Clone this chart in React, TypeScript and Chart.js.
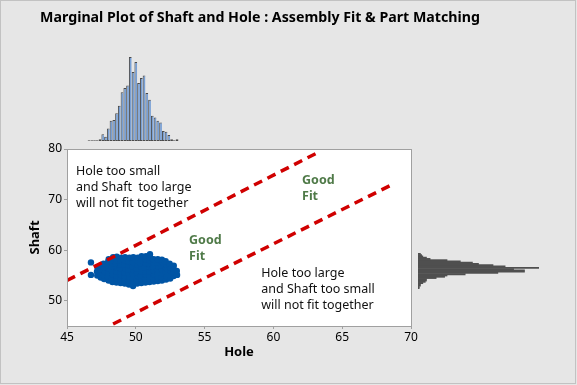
import React, { useEffect, useRef } from "react";
import { Chart, registerables } from "chart.js";

Chart.register(...registerables);

const W = 577;
const H = 385;
const FONT = "'Noto Sans', 'Open Sans', sans-serif";

const chartTitle = "Marginal Plot of Shaft and Hole : Assembly Fit & Part Matching";
const xAxisTitle = "Hole";
const yAxisTitle = "Shaft";
const xTickValues = [45, 50, 55, 60, 65, 70];
const yTickValues = [50, 60, 70, 80];

// Top marginal histogram (Hole)
const holeBinCenters = [46.6, 46.8, 47.0, 47.2, 47.4, 47.6, 47.8, 48.0, 48.2, 48.4, 48.6, 48.8, 49.0, 49.2, 49.4, 49.6, 49.8, 50.0, 50.2, 50.4, 50.6, 50.8, 51.0, 51.2, 51.4, 51.6, 51.8, 52.0, 52.2, 52.4, 52.6, 52.8, 53.0];
const holeBinCounts = [1, 1, 1, 1, 2, 8, 5, 15, 24, 25, 33, 42, 58, 63, 66, 100, 82, 94, 69, 75, 78, 57, 49, 30, 28, 24, 22, 12, 11, 7, 2, 1, 2];

// Right marginal histogram (Shaft)
const shaftBinCenters = [59.25, 59.0, 58.75, 58.5, 58.25, 58.0, 57.75, 57.5, 57.25, 57.0, 56.75, 56.5, 56.25, 56.0, 55.75, 55.5, 55.25, 55.0, 54.75, 54.5, 54.25, 54.0, 53.75, 53.5, 53.25, 53.0, 52.75, 52.5];
const shaftBinCounts = [2, 3, 4, 7, 10, 24, 35, 45, 50, 62, 72, 100, 79, 88, 88, 66, 39, 24, 22, 15, 7, 7, 6, 4, 2, 2, 1, 1];

// Scatter points
const holeValues = [
  46.74, 46.74,
  47.2, 47.18, 47.22,
  47.45, 47.43, 47.47, 47.44,
  47.7, 47.68, 47.74, 47.7, 47.66,
  48.02, 47.98, 48.0, 48.05, 47.97, 48.0, 48.03,
  48.3, 48.28, 48.33, 48.3, 48.26, 48.31, 48.29, 48.35,
  48.6, 48.62, 48.58, 48.6, 48.64, 48.57, 48.6, 48.62,
  48.9, 48.88, 48.93, 48.9, 48.86, 48.91, 48.9, 48.94,
  49.2, 49.22, 49.18, 49.2, 49.24, 49.17, 49.2, 49.22,
  49.5, 49.48, 49.53, 49.5, 49.46, 49.51, 49.5, 49.54,
  49.8, 49.82, 49.78, 49.8, 49.84, 49.77, 49.8, 49.82,
  50.1, 50.08, 50.13, 50.1, 50.06, 50.11, 50.1, 50.14,
  50.4, 50.42, 50.38, 50.4, 50.44, 50.37, 50.4, 50.42,
  50.7, 50.68, 50.73, 50.7, 50.66, 50.71, 50.7, 50.74,
  51.0, 51.02, 50.98, 51.0, 51.04, 50.97, 51.0, 51.02, 51.03,
  51.3, 51.28, 51.33, 51.3, 51.26, 51.31, 51.3,
  51.6, 51.62, 51.58, 51.6, 51.64, 51.57, 51.6,
  51.9, 51.88, 51.93, 51.9, 51.86, 51.91, 51.9,
  52.2, 52.22, 52.18, 52.2, 52.24, 52.17,
  52.5, 52.48, 52.53, 52.5, 52.46,
  52.75, 52.77, 52.73, 52.76,
  53.0, 52.98,
];
const shaftValues = [
  57.58, 55.1,
  55.0, 55.8, 56.6,
  54.6, 55.3, 56.1, 56.9,
  54.3, 55.0, 55.8, 56.5, 57.3,
  54.0, 54.8, 55.5, 56.3, 57.0, 57.7, 58.2,
  53.7, 54.4, 55.2, 55.9, 56.7, 57.4, 58.0, 58.6,
  53.6, 54.3, 55.0, 55.8, 56.5, 57.3, 58.0, 58.7,
  53.5, 54.2, 55.0, 55.7, 56.4, 57.2, 57.9, 58.5,
  53.4, 54.1, 54.9, 55.6, 56.4, 57.1, 57.9, 58.6,
  53.2, 54.0, 54.7, 55.5, 56.2, 57.0, 57.7, 58.5,
  52.9, 53.7, 54.5, 55.3, 56.0, 56.8, 57.6, 58.6,
  53.4, 54.1, 54.9, 55.6, 56.4, 57.1, 57.9, 58.5,
  53.5, 54.2, 55.0, 55.8, 56.5, 57.3, 58.0, 58.8,
  53.6, 54.3, 55.1, 55.8, 56.6, 57.4, 58.2, 58.8,
  53.7, 54.4, 55.1, 55.8, 56.6, 57.3, 58.0, 58.6, 59.2,
  53.8, 54.5, 55.2, 56.0, 56.7, 57.5, 58.2,
  53.9, 54.6, 55.3, 56.1, 56.8, 57.5, 58.2,
  54.0, 54.7, 55.4, 56.2, 56.9, 57.6, 58.1,
  54.2, 54.9, 55.7, 56.4, 57.1, 57.8,
  54.4, 55.1, 55.9, 56.6, 57.3,
  54.9, 55.6, 56.3, 56.9,
  55.1, 55.9,
];

// Dashed boundary lines
const upperLineHole = [45, 63.3];
const upperLineShaft = [54.0, 79.4];
const lowerLineHole = [48.35, 68.8];
const lowerLineShaft = [45.4, 73.2];

// Annotations
const noteTexts = [
  ["Hole too small", "and Shaft  too large", "will not fit together"],
  ["Good", "Fit"],
  ["Good", "Fit"],
  ["Hole too large", "and Shaft too small", "will not fit together"],
];
const noteHole = [45.65, 53.87, 62.08, 59.12];
const noteShaft = [75.6, 61.9, 73.77, 55.48];
const noteKinds = ["plain", "good", "good", "plain"];

export default function App() {
  const mainRef = useRef<HTMLCanvasElement>(null);
  const topRef = useRef<HTMLCanvasElement>(null);
  const rightRef = useRef<HTMLCanvasElement>(null);

  useEffect(() => {
    const points = holeValues.map((h, i) => ({ x: h, y: shaftValues[i] }));
    const upper = upperLineHole.map((h, i) => ({ x: h, y: upperLineShaft[i] }));
    const lower = lowerLineHole.map((h, i) => ({ x: h, y: lowerLineShaft[i] }));

    const areaPlugin = {
      id: "area",
      beforeDraw(chart: any) {
        const { ctx, chartArea: a } = chart;
        ctx.save();
        ctx.fillStyle = "#ffffff";
        ctx.fillRect(a.left, a.top, a.right - a.left, a.bottom - a.top);
        ctx.restore();
      },
      afterDatasetsDraw(chart: any) {
        const { ctx, chartArea: a, scales } = chart;
        ctx.save();
        ctx.strokeStyle = "#a0a0a0";
        ctx.lineWidth = 1;
        ctx.strokeRect(Math.round(a.left) + 0.5, Math.round(a.top) + 0.5, Math.round(a.right - a.left), Math.round(a.bottom - a.top));
        ctx.textAlign = "left";
        ctx.textBaseline = "middle";
        noteTexts.forEach((lines, i) => {
          const px = scales.x.getPixelForValue(noteHole[i]);
          const py = scales.y.getPixelForValue(noteShaft[i]);
          if (noteKinds[i] === "good") {
            ctx.font = `bold 12.5px ${FONT}`;
            ctx.fillStyle = "#4f7a48";
          } else {
            ctx.font = `12.5px ${FONT}`;
            ctx.fillStyle = "#111111";
          }
          lines.forEach((t, j) => ctx.fillText(t, px, py + j * 16));
        });
        ctx.restore();
      },
      afterDraw(chart: any) {
        const { ctx } = chart;
        ctx.save();
        ctx.font = `bold 14.2px ${FONT}`;
        ctx.fillStyle = "#000000";
        ctx.textAlign = "center";
        ctx.textBaseline = "middle";
        ctx.fillText(chartTitle, 260, 18);
        ctx.restore();
      },
    };

    const main = new Chart(mainRef.current as HTMLCanvasElement, {
      type: "scatter",
      data: {
        datasets: [
          {
            type: "line",
            data: upper,
            borderColor: "#d00000",
            borderWidth: 3.5,
            borderDash: [9, 6],
            pointRadius: 0,
            fill: false,
          } as any,
          {
            type: "line",
            data: lower,
            borderColor: "#d00000",
            borderWidth: 3.5,
            borderDash: [9, 6],
            pointRadius: 0,
            fill: false,
          } as any,
          {
            type: "scatter",
            data: points,
            backgroundColor: "#0055a5",
            borderColor: "#0055a5",
            borderWidth: 0,
            pointRadius: 3.2,
          } as any,
        ],
      },
      options: {
        responsive: false,
        animation: false,
        devicePixelRatio: 1,
        events: [],
        layout: { padding: { left: 0, top: 149, right: 166, bottom: 0 } },
        plugins: { legend: { display: false }, tooltip: { enabled: false } },
        scales: {
          x: {
            type: "linear",
            min: 45,
            max: 70,
            afterBuildTicks: (s: any) => {
              s.ticks = xTickValues.map((v) => ({ value: v }));
            },
            afterFit: (s: any) => {
              s.height = 59;
            },
            grid: { drawOnChartArea: false, drawTicks: true, tickLength: 3, color: "#a0a0a0" },
            border: { display: false },
            ticks: { color: "#000", font: { family: FONT, size: 12 }, padding: 1, maxRotation: 0 },
            title: {
              display: true,
              text: xAxisTitle,
              color: "#000",
              font: { family: FONT, size: 13, weight: "bold" },
              padding: { top: 0, bottom: 25 },
            },
          },
          y: {
            type: "linear",
            min: 45,
            max: 80,
            afterBuildTicks: (s: any) => {
              s.ticks = yTickValues.map((v) => ({ value: v }));
            },
            afterFit: (s: any) => {
              s.width = 67;
            },
            grid: { drawOnChartArea: false, drawTicks: true, tickLength: 3, color: "#a0a0a0" },
            border: { display: false },
            ticks: { color: "#000", font: { family: FONT, size: 12 }, padding: 2 },
            title: {
              display: true,
              text: yAxisTitle,
              color: "#000",
              font: { family: FONT, size: 13, weight: "bold" },
              padding: { top: 27, bottom: 0 },
            },
          },
        },
      } as any,
      plugins: [areaPlugin],
    });

    const top = new Chart(topRef.current as HTMLCanvasElement, {
      type: "bar",
      data: {
        datasets: [
          {
            data: holeBinCenters.map((c, i) => ({ x: c, y: holeBinCounts[i] })),
            backgroundColor: "#78a0d6",
            borderColor: "#4a4a4a",
            borderWidth: { left: 1, top: 1, right: 0, bottom: 1 },
            borderSkipped: false,
            inflateAmount: 0,
            barPercentage: 1,
            categoryPercentage: 1,
          } as any,
        ],
      },
      options: {
        responsive: false,
        animation: false,
        devicePixelRatio: 1,
        events: [],
        layout: { padding: { left: 67, right: 166, top: 57, bottom: 9 } },
        plugins: { legend: { display: false }, tooltip: { enabled: false } },
        scales: {
          x: { type: "linear", min: 45, max: 70, offset: false, display: false },
          y: { type: "linear", min: 0, max: 100, display: false },
        },
      } as any,
    });

    const right = new Chart(rightRef.current as HTMLCanvasElement, {
      type: "bar",
      data: {
        datasets: [
          {
            data: shaftBinCenters.map((c, i) => ({ x: shaftBinCounts[i], y: c })),
            backgroundColor: "#4f4f4f",
            borderColor: "#4f4f4f",
            borderWidth: 0,
            barPercentage: 1,
            categoryPercentage: 1,
          } as any,
        ],
      },
      options: {
        indexAxis: "y",
        responsive: false,
        animation: false,
        devicePixelRatio: 1,
        events: [],
        layout: { padding: { left: 418, right: 38, top: 149, bottom: 59 } },
        plugins: { legend: { display: false }, tooltip: { enabled: false } },
        scales: {
          y: { type: "linear", min: 45, max: 80, offset: false, display: false },
          x: { type: "linear", min: 0, max: 100, display: false },
        },
      } as any,
    });

    return () => {
      main.destroy();
      top.destroy();
      right.destroy();
    };
  }, []);

  return (
    <div
      style={{
        position: "fixed",
        left: 0,
        top: 0,
        width: W,
        height: H,
        background: "#e6e6e6",
        overflow: "hidden",
      }}
    >
      <canvas ref={mainRef} width={W} height={H} style={{ position: "absolute", left: 0, top: 0 }} />
      <canvas ref={topRef} width={W} height={150} style={{ position: "absolute", left: 0, top: 0 }} />
      <canvas ref={rightRef} width={W} height={H} style={{ position: "absolute", left: 0, top: 0 }} />
      <div
        style={{
          position: "absolute",
          left: 0,
          top: 0,
          width: W - 1,
          height: H - 1,
          boxShadow: "inset 0 0 0 1px #c2c2c2",
          pointerEvents: "none",
        }}
      />
    </div>
  );
}
